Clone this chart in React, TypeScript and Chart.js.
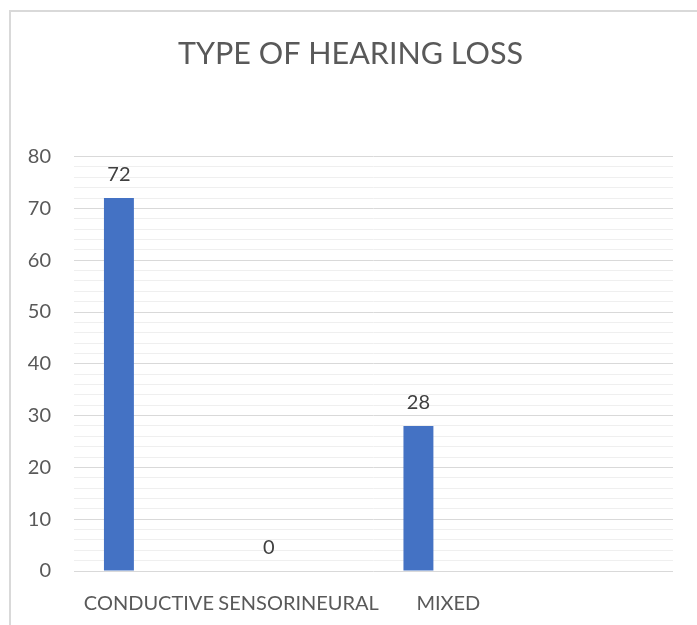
import React, { useEffect, useRef } from "react";
import { Chart, registerables } from "chart.js";

Chart.register(...registerables);

const categories: string[] = ["CONDUCTIVE", "SENSORINEURAL", "MIXED", ""];
const values: (number | null)[] = [72, 0, 28, null];
const emptySeries: (number | null)[] = [null, null, null, null];
const yMin = 0;
const yMax = 80;
const yMajorStep = 10;
const yMinorStep = 2;
const titleText = "TYPE OF HEARING LOSS";

const FONT = "Lato, 'Open Sans', sans-serif";

const valueLabelPlugin = {
  id: "valueLabels",
  afterDatasetsDraw(chart: any) {
    const ctx = chart.ctx;
    const meta = chart.getDatasetMeta(0);
    ctx.save();
    ctx.fillStyle = "#404040";
    ctx.font = `20px ${FONT}`;
    ctx.textAlign = "center";
    ctx.textBaseline = "alphabetic";
    meta.data.forEach((bar: any, i: number) => {
      const v = values[i];
      if (v === null || v === undefined) return;
      ctx.fillText(String(v), bar.x, bar.y - 17);
    });
    ctx.restore();
  },
};

export default function App() {
  const ref = useRef<HTMLCanvasElement | null>(null);

  useEffect(() => {
    if (!ref.current) return;
    const chart = new Chart(ref.current, {
      type: "bar",
      data: {
        labels: categories,
        datasets: [
          { data: values, backgroundColor: "#4472C4", borderWidth: 0, categoryPercentage: 0.6, barPercentage: 1 },
          { data: emptySeries, backgroundColor: "#ED7D31", borderWidth: 0, categoryPercentage: 0.6, barPercentage: 1 },
          { data: emptySeries, backgroundColor: "#A5A5A5", borderWidth: 0, categoryPercentage: 0.6, barPercentage: 1 },
        ],
      },
      options: {
        animation: false,
        responsive: false,
        maintainAspectRatio: false,
        layout: { padding: { left: 28, right: 24, top: 0, bottom: 9 } },
        plugins: {
          legend: { display: false },
          tooltip: { enabled: false },
          title: {
            display: true,
            text: titleText,
            color: "#595959",
            font: { family: FONT, size: 30.5, weight: "normal" },
            padding: { top: 36, bottom: 84 },
          },
        },
        scales: {
          x: {
            grid: { display: false, drawTicks: false },
            border: { display: false },
            afterFit: (s: any) => {
              s.height = 45;
            },
            ticks: {
              color: "#595959",
              font: { family: FONT, size: 20 },
              padding: 21,
              maxRotation: 0,
              autoSkip: false,
            },
          },
          y: {
            min: yMin,
            max: yMax,
            afterFit: (s: any) => {
              s.width = 46;
            },
            grid: {
              drawTicks: false,
              color: (c: any) => (c.tick && c.tick.value % yMajorStep === 0 ? "#d9d9d9" : "#efefef"),
              lineWidth: 1,
            },
            border: { display: false },
            ticks: {
              stepSize: yMinorStep,
              autoSkip: false,
              color: "#595959",
              font: { family: FONT, size: 20 },
              padding: 23,
              callback: (v: any) => (Number(v) % yMajorStep === 0 ? String(v) : ""),
            },
          },
        },
      },
      plugins: [valueLabelPlugin],
    });
    return () => chart.destroy();
  }, []);

  return (
    <div style={{ position: "absolute", left: 0, top: 0, width: 697, height: 625, background: "#fff", overflow: "hidden" }}>
      <canvas ref={ref} width={697} height={625} style={{ position: "absolute", left: 0, top: 0 }} />
      <div
        style={{
          position: "absolute",
          left: 9,
          top: 10,
          width: 700,
          height: 700,
          borderLeft: "2px solid #d9d9d9",
          borderTop: "2px solid #d9d9d9",
          pointerEvents: "none",
        }}
      />
    </div>
  );
}
